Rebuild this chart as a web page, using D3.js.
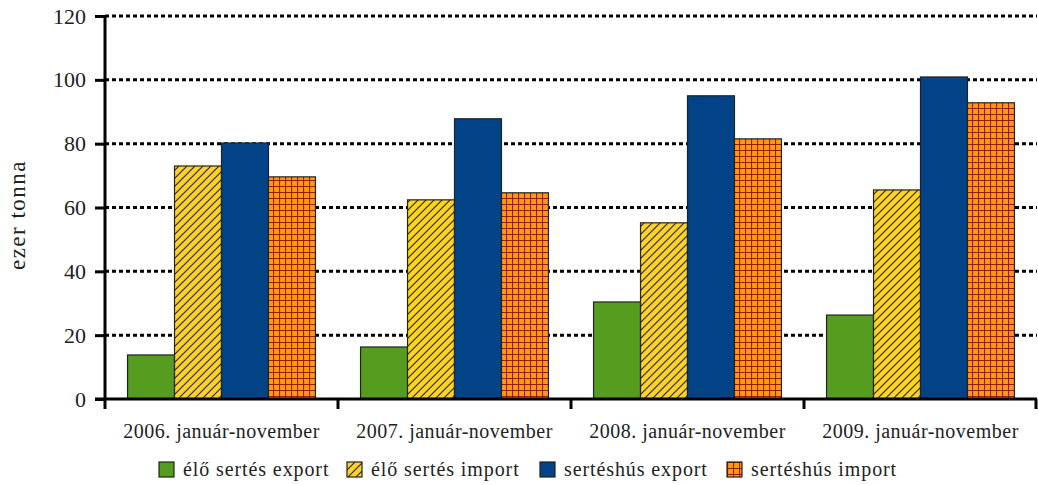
<!DOCTYPE html>
<html lang="hu">
  <head>
    <meta charset="utf-8">
    <script src="https://d3js.org/d3.v7.min.js"></script>
    <style>
      body { margin: 0; background: #fff; }
      text { font-family: "Liberation Serif", "DejaVu Serif", serif; fill: #222; }
    </style>
  </head>
  <body>
    <svg width="1038" height="485"></svg>
    <script>
      // data
      var categories = ["2006. január-november", "2007. január-november", "2008. január-november", "2009. január-november"];
      var seriesNames = ["élő sertés export", "élő sertés import", "sertéshús export", "sertéshús import"];
      var eloExport = [13.8, 16.3, 30.4, 26.3];
      var eloImport = [73.0, 62.4, 55.2, 65.5];
      var husExport = [80.2, 87.8, 95.0, 100.9];
      var husImport = [69.6, 64.6, 81.5, 92.8];
      var yTicks = [0, 20, 40, 60, 80, 100, 120];

      var seriesValues = [eloExport, eloImport, husExport, husImport];
      var fills = ["#559c1f", "url(#hatch)", "#024387", "url(#grid)"];

      var svg = d3.select("svg");
      var plotLeft = 105, plotRight = 1037, plotTop = 16, plotBottom = 399;

      // patterns for the import bars
      var defs = svg.append("defs");
      var hatch = defs.append("pattern")
        .attr("id", "hatch")
        .attr("patternUnits", "userSpaceOnUse")
        .attr("width", 8).attr("height", 8);
      hatch.append("rect").attr("width", 8).attr("height", 8).attr("fill", "#ffd324");
      hatch.append("path")
        .attr("d", "M-2,2 L2,-2 M0,8 L8,0 M6,10 L10,6")
        .attr("stroke", "#222").attr("stroke-width", 1.1);

      var grid = defs.append("pattern")
        .attr("id", "grid")
        .attr("patternUnits", "userSpaceOnUse")
        .attr("width", 6).attr("height", 6);
      grid.append("rect").attr("width", 6).attr("height", 6).attr("fill", "#ff9a0e");
      grid.append("path")
        .attr("d", "M0,0.5 H6 M0.5,0 V6")
        .attr("stroke", "#9a1a00").attr("stroke-width", 1.2);

      var x0 = d3.scaleBand().domain(categories).range([plotLeft, plotRight]);
      var x1 = d3.scaleBand().domain(d3.range(seriesNames.length))
        .range([0, x0.bandwidth()]).paddingOuter(0.48).paddingInner(0);
      var y = d3.scaleLinear().domain([0, 120]).range([plotBottom, plotTop]);

      // dotted gridlines
      svg.append("g")
        .selectAll("line")
        .data(yTicks.slice(1))
        .enter()
        .append("line")
        .attr("x1", plotLeft).attr("x2", plotRight)
        .attr("y1", function (d) { return y(d); })
        .attr("y2", function (d) { return y(d); })
        .attr("stroke", "#000")
        .attr("stroke-width", 3)
        .attr("stroke-dasharray", "4,3");

      // bars
      var groups = svg.append("g")
        .selectAll("g")
        .data(categories)
        .enter()
        .append("g")
        .attr("transform", function (d) { return "translate(" + x0(d) + ",0)"; });

      groups.selectAll("rect")
        .data(function (d, i) {
          return seriesValues.map(function (vals, s) { return { s: s, v: vals[i] }; });
        })
        .enter()
        .append("rect")
        .attr("x", function (d) { return x1(d.s); })
        .attr("width", x1.bandwidth())
        .attr("y", function (d) { return y(d.v); })
        .attr("height", function (d) { return y(0) - y(d.v); })
        .attr("fill", function (d) { return fills[d.s]; })
        .attr("stroke", "#222")
        .attr("stroke-width", 1.2);

      // y axis
      var yAxis = svg.append("g")
        .attr("transform", "translate(" + plotLeft + ",0)")
        .call(d3.axisLeft(y).tickValues(yTicks).tickSize(10).tickPadding(9));
      yAxis.selectAll("line, path").attr("stroke", "#000").attr("stroke-width", 3);
      yAxis.select(".domain").attr("d", "M0," + (plotBottom + 1) + "V" + plotTop);
      yAxis.selectAll("text")
        .attr("font-size", "22px")
        .style("font-family", "'Liberation Serif', serif")
        .attr("fill", "#222");

      // x axis with ticks at category boundaries
      var xAxis = svg.append("g").attr("transform", "translate(0," + plotBottom + ")");
      xAxis.append("line")
        .attr("x1", plotLeft - 10).attr("x2", plotRight)
        .attr("stroke", "#000").attr("stroke-width", 3);
      xAxis.selectAll(".bt")
        .data(categories.concat(["end"]))
        .enter()
        .append("line")
        .attr("class", "bt")
        .attr("x1", function (d, i) { return i < categories.length ? x0(d) : plotRight - 1; })
        .attr("x2", function (d, i) { return i < categories.length ? x0(d) : plotRight - 1; })
        .attr("y1", 0).attr("y2", 10)
        .attr("stroke", "#000").attr("stroke-width", 3);
      xAxis.selectAll(".lbl")
        .data(categories)
        .enter()
        .append("text")
        .attr("class", "lbl")
        .attr("x", function (d) { return x0(d) + x0.bandwidth() / 2; })
        .attr("y", 39)
        .attr("text-anchor", "middle")
        .attr("font-size", "20px")
        .attr("letter-spacing", "0.5px")
        .text(function (d) { return d; });

      // y axis title
      svg.append("text")
        .attr("transform", "translate(25," + 215 + ") rotate(-90)")
        .attr("text-anchor", "middle")
        .attr("font-size", "23px")
        .attr("letter-spacing", "1.5px")
        .text("ezer tonna");

      // legend
      var legendX = [159, 347, 540, 727];
      var legend = svg.append("g")
        .selectAll("g")
        .data(seriesNames)
        .enter()
        .append("g")
        .attr("transform", function (d, i) { return "translate(" + legendX[i] + ",462)"; });
      legend.append("rect")
        .attr("width", 15).attr("height", 15)
        .attr("fill", function (d, i) { return fills[i]; })
        .attr("stroke", "#222").attr("stroke-width", 1.2);
      legend.append("text")
        .attr("x", 24).attr("y", 14)
        .attr("font-size", "20px")
        .attr("letter-spacing", "0.9px")
        .text(function (d) { return d; });
    </script>
  </body>
</html>
